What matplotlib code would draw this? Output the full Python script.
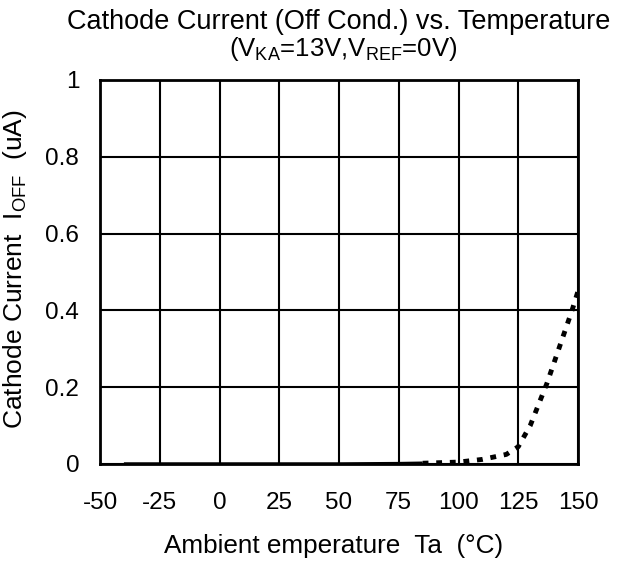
import matplotlib.pyplot as plt

plt.rcParams['font.family'] = ['Liberation Sans', 'DejaVu Sans']
plt.rcParams['mathtext.fontset'] = 'custom'
plt.rcParams['mathtext.rm'] = 'Liberation Sans'
plt.rcParams['mathtext.it'] = 'Liberation Sans'
plt.rcParams['axes.unicode_minus'] = False

# measured (solid) part
temp_solid = [-40, -25, 0, 25, 50, 75, 85]
ioff_solid = [0.0, 0.0, 0.0, 0.0, 0.0, 0.001, 0.002]

# extrapolated (dotted) part
temp_dot = [85, 100, 110, 120, 125, 130, 137, 147.5, 150]
ioff_dot = [0.002, 0.005, 0.012, 0.025, 0.045, 0.1, 0.21, 0.40, 0.45]

x_ticks = [-50, -25, 0, 25, 50, 75, 100, 125, 150]
y_ticks = [0, 0.2, 0.4, 0.6, 0.8, 1]
y_labels = ['0', '0.2', '0.4', '0.6', '0.8', '1']

W, H = 620, 563
fig = plt.figure(figsize=(6.2, 5.63), dpi=100)
ax = fig.add_axes([100 / W, 1 - 464 / H, 478 / W, 384 / H])

ax.plot(temp_solid, ioff_solid, color='black', lw=2.5, solid_capstyle='butt', zorder=3)
ax.plot(temp_dot, ioff_dot, color='black', lw=3.5, linestyle=(0, (1.2, 1.6)), zorder=3)

ax.set_xlim(-50, 150)
ax.set_ylim(0, 1)
ax.set_xticks(x_ticks)
ax.set_yticks(y_ticks)
ax.set_yticklabels(y_labels)
ax.grid(True, color='black', lw=1.5)
ax.tick_params(axis='x', length=0, labelsize=17.5, pad=20)
ax.tick_params(axis='y', length=0, labelsize=17.5, pad=15)
for s in ax.spines.values():
    s.set_linewidth(2)
    s.set_color('black')

fig.text(339 / W, 1 - 22 / H, 'Cathode Current (Off Cond.) vs. Temperature',
         fontsize=19.5, ha='center', va='center')
fig.text(343 / W, 1 - 49 / H, r'(V$_{\mathrm{KA}}$=13V,V$_{\mathrm{REF}}$=0V)',
         fontsize=18.5, ha='center', va='center')
fig.text(334 / W, 1 - 546 / H, 'Ambient emperature  Ta  (°C)',
         fontsize=18.8, ha='center', va='center')
fig.text(15 / W, 1 - 269 / H, r'Cathode Current  I$_{\mathrm{OFF}}$  (uA)',
         fontsize=19, ha='center', va='center', rotation=90)

fig.savefig('out.png', dpi=100)
